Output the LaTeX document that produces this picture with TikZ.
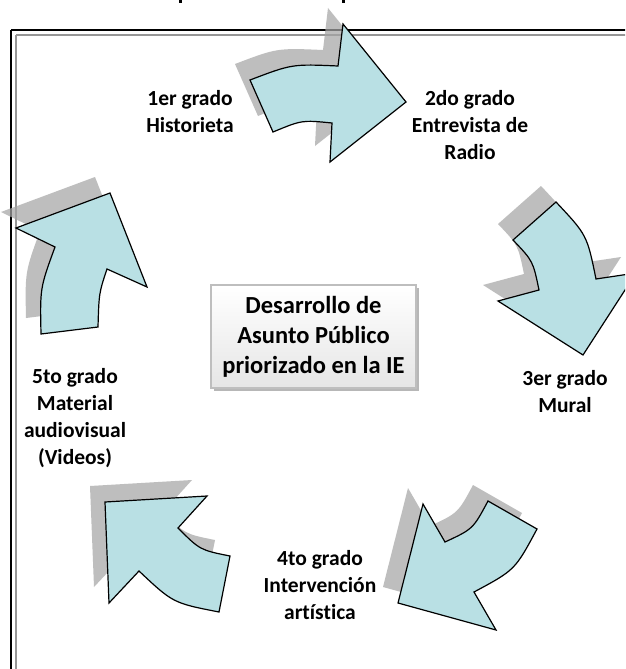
\documentclass[tikz,border=0pt]{standalone}
\usepackage{fontspec}
\setmainfont{Carlito}[Ligatures=NoCommon]
\usetikzlibrary{shadows}
\definecolor{arrowfill}{RGB}{185,224,228}
\definecolor{shadowgray}{RGB}{165,165,165}
\definecolor{innerframe}{RGB}{150,150,150}
\definecolor{boxedge}{RGB}{190,190,190}
\tikzset{
  blockarrow/.style={fill=arrowfill, draw=black, line width=1.2pt, line join=miter},
  arrowshadow/.style={fill=shadowgray, fill opacity=0.72},
  sidelabel/.style={font=\fontsize{21.5}{27}\selectfont\bfseries, align=center, inner sep=0pt},
  centerbox/.style={font=\fontsize{24.5}{30}\selectfont\bfseries, align=center, draw=boxedge, line width=1.2pt,
    top color=white, bottom color=black!10, minimum width=205pt, minimum height=103pt, inner sep=0pt,
    drop shadow={shadow xshift=3pt, shadow yshift=-3pt, fill=black!35, opacity=0.8}}
}
\newcommand{\pathA}{(250,80) .. controls (292,64) .. (338,66) -- (343,24) -- (406,102) -- (330,162) -- (332,123) .. controls (302,120) .. (273,132) -- cycle}
\newcommand{\pathB}{(513,240) -- (556,202) .. controls (587,235) .. (596,279) -- (636,273) -- (583,355) -- (498,301) -- (539,290) .. controls (533,261) .. (513,240) -- cycle}
\newcommand{\pathC}{(423,504) -- (445,542) .. controls (473,529) .. (488,501) -- (537,529) .. controls (515,570) .. (474,592) -- (496,630) -- (398,603) -- cycle}
\newcommand{\pathD}{(105,502) -- (207,496) -- (178,528) .. controls (200,550) .. (230,556) -- (219,612) .. controls (173,603) .. (139,571) -- (109,603) -- cycle}
\newcommand{\pathE}{(41,334) -- (98,327) .. controls (99,293) .. (107,269) -- (147,287) -- (110,193) -- (16,228) -- (55,247) .. controls (40,288) .. (41,334) -- cycle}
\begin{document}
\begin{tikzpicture}[x=1pt, y=-1pt]
\clip (0,0) rectangle (625,669);
\fill[white] (0,0) rectangle (625,669);
% clipped title descenders
\fill[black] (179,0) rectangle (181.5,3);
\fill[black] (342,0) rectangle (344.5,3);
% frame
\draw[black, line width=1.6pt] (11,30) -- (640,30);
\draw[black, line width=1.6pt] (11,30) -- (11,690);
\draw[innerframe, line width=1.4pt] (16,35) -- (640,35);
\draw[innerframe, line width=1.4pt] (16,35) -- (16,690);
% shadows
\fill[arrowshadow, shift={(-15,-16)}] \pathA;
\fill[arrowshadow, shift={(-15,-16)}] \pathB;
\fill[arrowshadow, shift={(-15,-16)}] \pathC;
\fill[arrowshadow, shift={(-15,-16)}] \pathD;
\fill[arrowshadow, shift={(-15,-16)}] \pathE;
% arrows
\draw[blockarrow] \pathA;
\draw[blockarrow] \pathB;
\draw[blockarrow] \pathC;
\draw[blockarrow] \pathD;
\draw[blockarrow] \pathE;
% center
\node[centerbox] (center) at (313.5,336.5) {Desarrollo de\\Asunto Público\\priorizado en la IE};
% labels
\node[sidelabel] (g1) at (190,111.5) {1er grado\\Historieta};
\node[sidelabel] (g2) at (470,125) {2do grado\\Entrevista de\\Radio};
\node[sidelabel] (g3) at (565,391.5) {3er grado\\Mural};
\node[sidelabel] (g4) at (320,585) {4to grado\\Intervención\\artística};
\node[sidelabel] (g5) at (75,418.5) {5to grado\\Material\\audiovisual\\(Videos)};
\end{tikzpicture}
\end{document}
